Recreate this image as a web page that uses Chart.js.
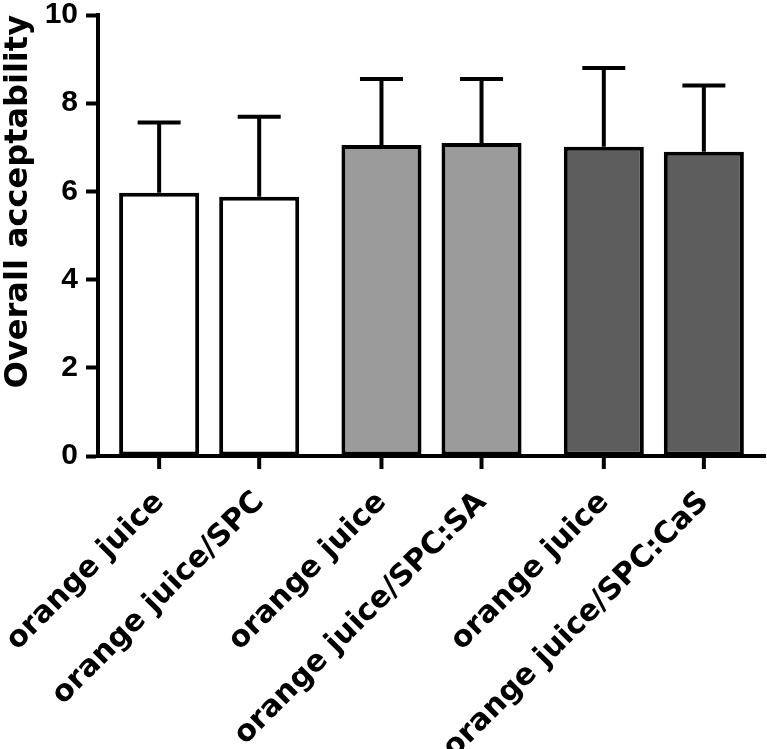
<!DOCTYPE html>
<html>
<head>
<meta charset="utf-8">
<script src="https://cdn.jsdelivr.net/npm/chart.js@4.4.0/dist/chart.umd.min.js"></script>
<style>
  html, body { margin: 0; padding: 0; background: #fff; }
  #wrap { width: 767px; height: 749px; position: relative; }
</style>
</head>
<body>
<div id="wrap"><canvas id="acceptChart"></canvas></div>
<script>
// bar labels, left to right (bars come in pairs)
const categories = ['orange juice', 'orange juice/SPC', 'orange juice', 'orange juice/SPC:SA', 'orange juice', 'orange juice/SPC:CaS'];
// mean overall acceptability
const means = [5.97, 5.88, 7.05, 7.10, 7.01, 6.90];
// upper error bar length (SD)
const sds = [1.59, 1.81, 1.50, 1.45, 1.79, 1.50];
// fill of each pair
const pairColors = ['#ffffff', '#9b9b9b', '#5d5d5d'];
const yTicks = [0, 2, 4, 6, 8, 10];

const firstOfPair = means.filter((_, i) => i % 2 === 0);
const secondOfPair = means.filter((_, i) => i % 2 === 1);
const pairLabels = pairColors.map((_, i) => 'pair ' + (i + 1));

// error bars, x ticks and rotated labels under each bar
const barExtras = {
    id: 'barExtras',
    afterDatasetsDraw(chart) {
        const ctx = chart.ctx;
        const y = chart.scales.y;
        const bottom = chart.chartArea.bottom;
        ctx.save();
        ctx.strokeStyle = '#000';
        ctx.lineWidth = 4;
        chart.data.datasets.forEach((ds, d) => {
            const meta = chart.getDatasetMeta(d);
            meta.data.forEach((bar, g) => {
                const idx = g * 2 + d;
                const top = y.getPixelForValue(means[idx] + sds[idx]);
                ctx.beginPath();
                ctx.moveTo(bar.x, bar.y);
                ctx.lineTo(bar.x, top);
                ctx.moveTo(bar.x - 21.5, top);
                ctx.lineTo(bar.x + 21.5, top);
                ctx.stroke();

                ctx.beginPath();
                ctx.moveTo(bar.x, bottom);
                ctx.lineTo(bar.x, bottom + 13);
                ctx.stroke();

                ctx.save();
                ctx.translate(bar.x + 6, bottom + 47);
                ctx.rotate(-Math.PI / 4);
                ctx.font = 'bold 30px "DejaVu Sans"';
                ctx.fillStyle = '#000';
                ctx.textAlign = 'right';
                ctx.textBaseline = 'alphabetic';
                ctx.fillText(categories[idx], 0, 0);
                ctx.restore();
            });
        });
        ctx.restore();
    }
};

const barStyle = {
    backgroundColor: pairColors,
    borderColor: '#000',
    borderWidth: 4,
    borderSkipped: false,
    categoryPercentage: 0.9,
    barPercentage: 0.8
};

new Chart(document.getElementById('acceptChart'), {
    type: 'bar',
    data: {
        labels: pairLabels,
        datasets: [
            Object.assign({ label: 'first', data: firstOfPair }, barStyle),
            Object.assign({ label: 'second', data: secondOfPair }, barStyle)
        ]
    },
    options: {
        responsive: true,
        maintainAspectRatio: false,
        animation: false,
        layout: { padding: { top: 0, right: 2, left: 0, bottom: 0 } },
        plugins: {
            legend: { display: false },
            tooltip: { enabled: false },
            title: { display: false }
        },
        scales: {
            x: {
                grid: { display: false },
                ticks: { display: false },
                border: { display: true, color: '#000', width: 4 },
                afterFit(scale) { scale.height = 293; }
            },
            y: {
                min: 0,
                max: 10,
                afterBuildTicks(scale) { scale.ticks = yTicks.map(v => ({ value: v })); },
                afterFit(scale) {
                    scale.width = 98;
                    scale.paddingTop = 15;
                    scale.paddingBottom = 0;
                },
                grid: {
                    drawOnChartArea: false,
                    drawTicks: true,
                    tickLength: 12,
                    tickWidth: 4,
                    tickColor: '#000'
                },
                border: { display: true, color: '#000', width: 4 },
                ticks: {
                    color: '#000',
                    padding: 8,
                    font: { family: 'Liberation Sans', size: 30, weight: 'bold', lineHeight: 1 }
                },
                title: {
                    display: true,
                    text: 'Overall acceptability',
                    align: 'end',
                    color: '#000',
                    padding: 0,
                    font: { family: 'DejaVu Sans', size: 32, weight: 'bold', lineHeight: 1.15 }
                }
            }
        }
    },
    plugins: [barExtras]
});
</script>
</body>
</html>
